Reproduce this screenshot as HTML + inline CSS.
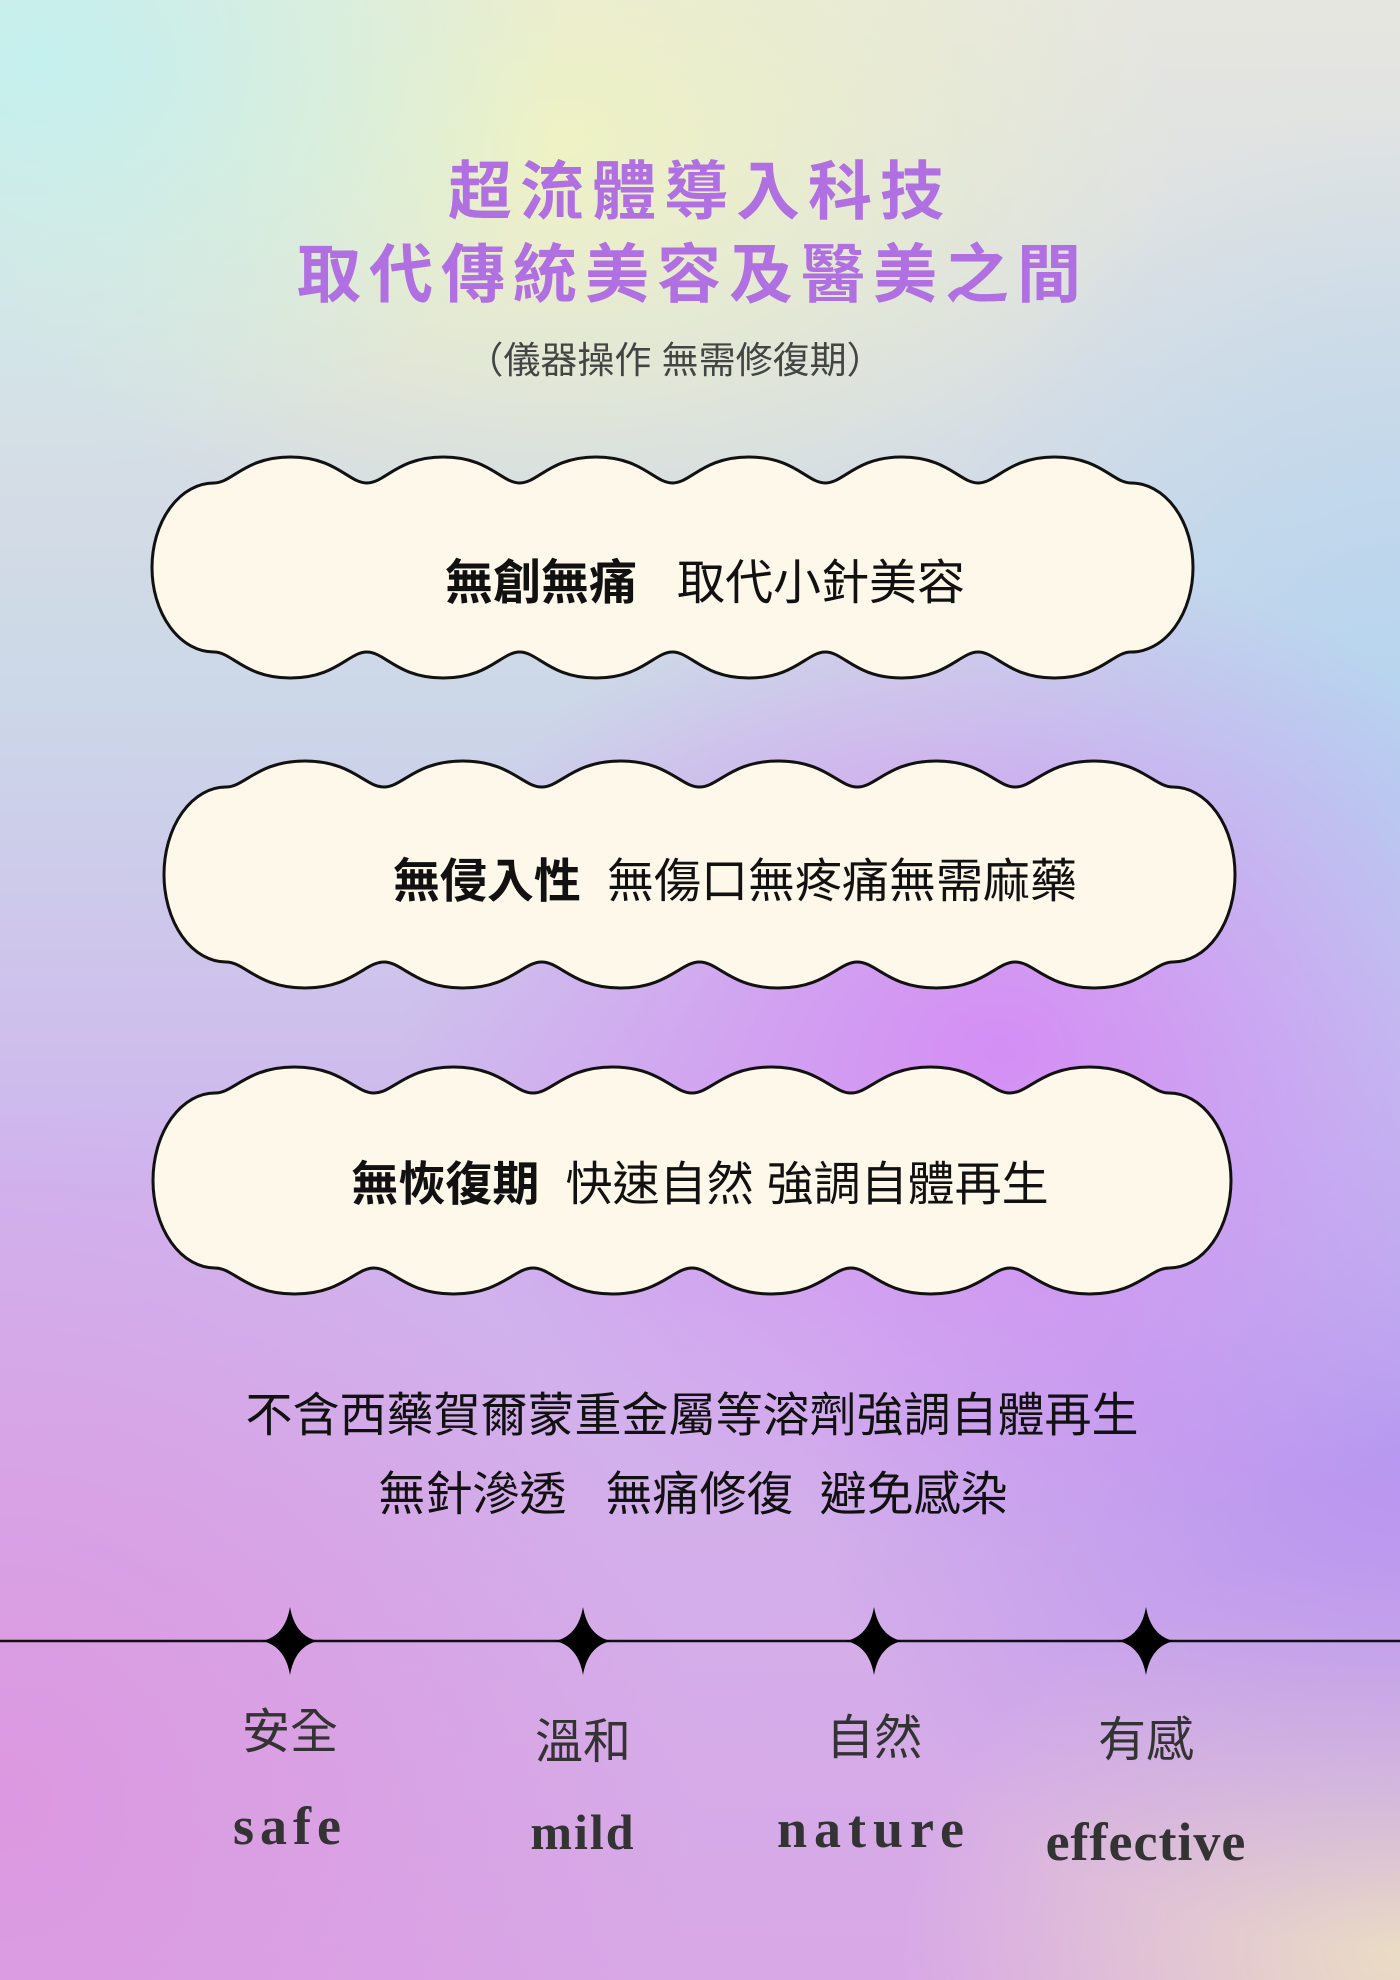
<!DOCTYPE html>
<html><head><meta charset="utf-8">
<style>
html,body{margin:0;padding:0}
body{width:1400px;height:1980px;position:relative;overflow:hidden;font-family:"Liberation Sans","Noto Sans CJK TC",sans-serif;
background:
radial-gradient(ellipse 520px 420px at 40px 60px,#c4f0ee 0%,rgba(196,240,238,0) 100%),
radial-gradient(ellipse 620px 420px at 560px 140px,#eef2c4 0%,rgba(238,242,196,0) 100%),
radial-gradient(ellipse 600px 500px at 1000px 1050px,#d48ef4 0%,rgba(212,142,244,0) 100%),
radial-gradient(ellipse 500px 700px at 1400px 800px,#b4d4f0 0%,rgba(180,212,240,0) 100%),
radial-gradient(ellipse 600px 500px at 1400px 1450px,#b894f0 0%,rgba(184,148,240,0) 100%),
radial-gradient(ellipse 500px 400px at 1400px 1950px,#eadcc4 0%,rgba(234,220,196,0) 100%),
radial-gradient(ellipse 700px 700px at 0px 1800px,#dc98e0 0%,rgba(220,152,224,0) 100%),
linear-gradient(180deg,#e6e6e0 0%,#ccd8e8 35%,#cfb4ee 60%,#d8a8e6 100%);}
.t{position:absolute;left:0;width:1400px;text-align:center;white-space:nowrap;transform:translateY(-50%);box-sizing:border-box}
svg{position:absolute;left:0;top:0}
</style></head><body>
<div class="t" style="top:187px;font-size:64px;font-weight:bold;color:#b070e2;letter-spacing:8px;">超流體導入科技</div>
<div class="t" style="top:270px;font-size:64px;font-weight:bold;color:#b070e2;letter-spacing:8px;padding-right:14px;">取代傳統美容及醫美之間</div>
<div class="t" style="top:357px;font-size:37px;color:#444;padding-right:50px;">（儀器操作 無需修復期）</div>

<svg id="clouds" width="1400" height="1980"></svg>

<div class="t" style="top:578px;font-size:48px;color:#111;padding-left:10px;"><b>無創無痛</b>&nbsp;&nbsp; 取代小針美容</div>
<div class="t" style="top:877px;font-size:47px;color:#111;padding-left:70px;"><b>無侵入性</b>&nbsp; 無傷口無疼痛無需麻藥</div>
<div class="t" style="top:1180px;font-size:47px;color:#111;"><b>無恢復期</b>&nbsp; 快速自然 強調自體再生</div>

<div class="t" style="top:1411px;font-size:47px;color:#111;padding-right:16px;">不含西藥賀爾蒙重金屬等溶劑強調自體再生</div>
<div class="t" style="top:1490px;font-size:47px;color:#111;padding-right:14px;">無針滲透&nbsp;&nbsp; 無痛修復&nbsp; 避免感染</div>

<svg width="1400" height="1980">
<line x1="0" y1="1641" x2="1400" y2="1641" stroke="#111" stroke-width="2.5"/>
<g id="stars"></g>
</svg>

<div class="t" style="top:1727px;left:190px;width:200px;font-size:48px;color:#333;">安全</div>
<div class="t" style="top:1737px;left:483px;width:200px;font-size:48px;color:#333;">溫和</div>
<div class="t" style="top:1733px;left:774px;width:200px;font-size:48px;color:#333;">自然</div>
<div class="t" style="top:1735px;left:1046px;width:200px;font-size:48px;color:#333;">有感</div>
<div class="t" style="top:1826px;left:190px;width:200px;font-size:54px;color:#333;font-family:'Liberation Serif',serif;font-weight:bold;letter-spacing:6px;">safe</div>
<div class="t" style="top:1832px;left:483px;width:200px;font-size:50px;color:#333;font-family:'Liberation Serif',serif;font-weight:bold;letter-spacing:2px;">mild</div>
<div class="t" style="top:1829px;left:724px;width:300px;font-size:54px;color:#333;font-family:'Liberation Serif',serif;font-weight:bold;letter-spacing:7px;">nature</div>
<div class="t" style="top:1842px;left:996px;width:300px;font-size:54px;color:#333;font-family:'Liberation Serif',serif;font-weight:bold;letter-spacing:1px;">effective</div>

<script>
var ns='http://www.w3.org/2000/svg';
var clouds=[[152,457,1193,678],[164,761,1235,988],[153,1067,1231,1294]];
var cs=document.getElementById('clouds');
clouds.forEach(function(c,idx){
  var x0=c[0],y0=c[1],x1=c[2],y1=c[3],d=26,n=6,side=62;
  var xa=x0+side,xb=x1-side,w=(xb-xa)/n,yt=y0+d,yb=y1-d,ry=(yb-yt)/2;
  var p='M'+xa+' '+yt;
  for(var i=0;i<n;i++){var s=xa+i*w;
    p+=' C'+(s+0.12*w)+' '+yt+' '+(s+0.2*w)+' '+y0+' '+(s+0.5*w)+' '+y0;
    p+=' C'+(s+0.8*w)+' '+y0+' '+(s+0.88*w)+' '+yt+' '+(s+w)+' '+yt;}
  p+=' A'+side+' '+ry+' 0 0 1 '+xb+' '+yb;
  for(var i=n-1;i>=0;i--){var s=xa+i*w;
    p+=' C'+(s+0.88*w)+' '+yb+' '+(s+0.8*w)+' '+y1+' '+(s+0.5*w)+' '+y1;
    p+=' C'+(s+0.2*w)+' '+y1+' '+(s+0.12*w)+' '+yb+' '+s+' '+yb;}
  p+=' A'+side+' '+ry+' 0 0 1 '+xa+' '+yt+' Z';
  var e=document.createElementNS(ns,'path');
  e.setAttribute('d',p);e.setAttribute('fill','#fdf8ea');e.setAttribute('stroke','#111');e.setAttribute('stroke-width','3');
  
  
  cs.appendChild(e);
});
var starX=[290,583,874,1146];
var sg=document.getElementById('stars');
starX.forEach(function(x,i){var y=1641,h=34,r=28,k=5;
  var e=document.createElementNS(ns,'path');
  e.setAttribute('d','M'+x+' '+(y-h)+' Q'+(x+k)+' '+(y-k)+' '+(x+r)+' '+y+' Q'+(x+k)+' '+(y+k)+' '+x+' '+(y+h)+' Q'+(x-k)+' '+(y+k)+' '+(x-r)+' '+y+' Q'+(x-k)+' '+(y-k)+' '+x+' '+(y-h)+' Z');
  e.setAttribute('fill','#000');
  
  
  sg.appendChild(e);
});
</script>
</body></html>
